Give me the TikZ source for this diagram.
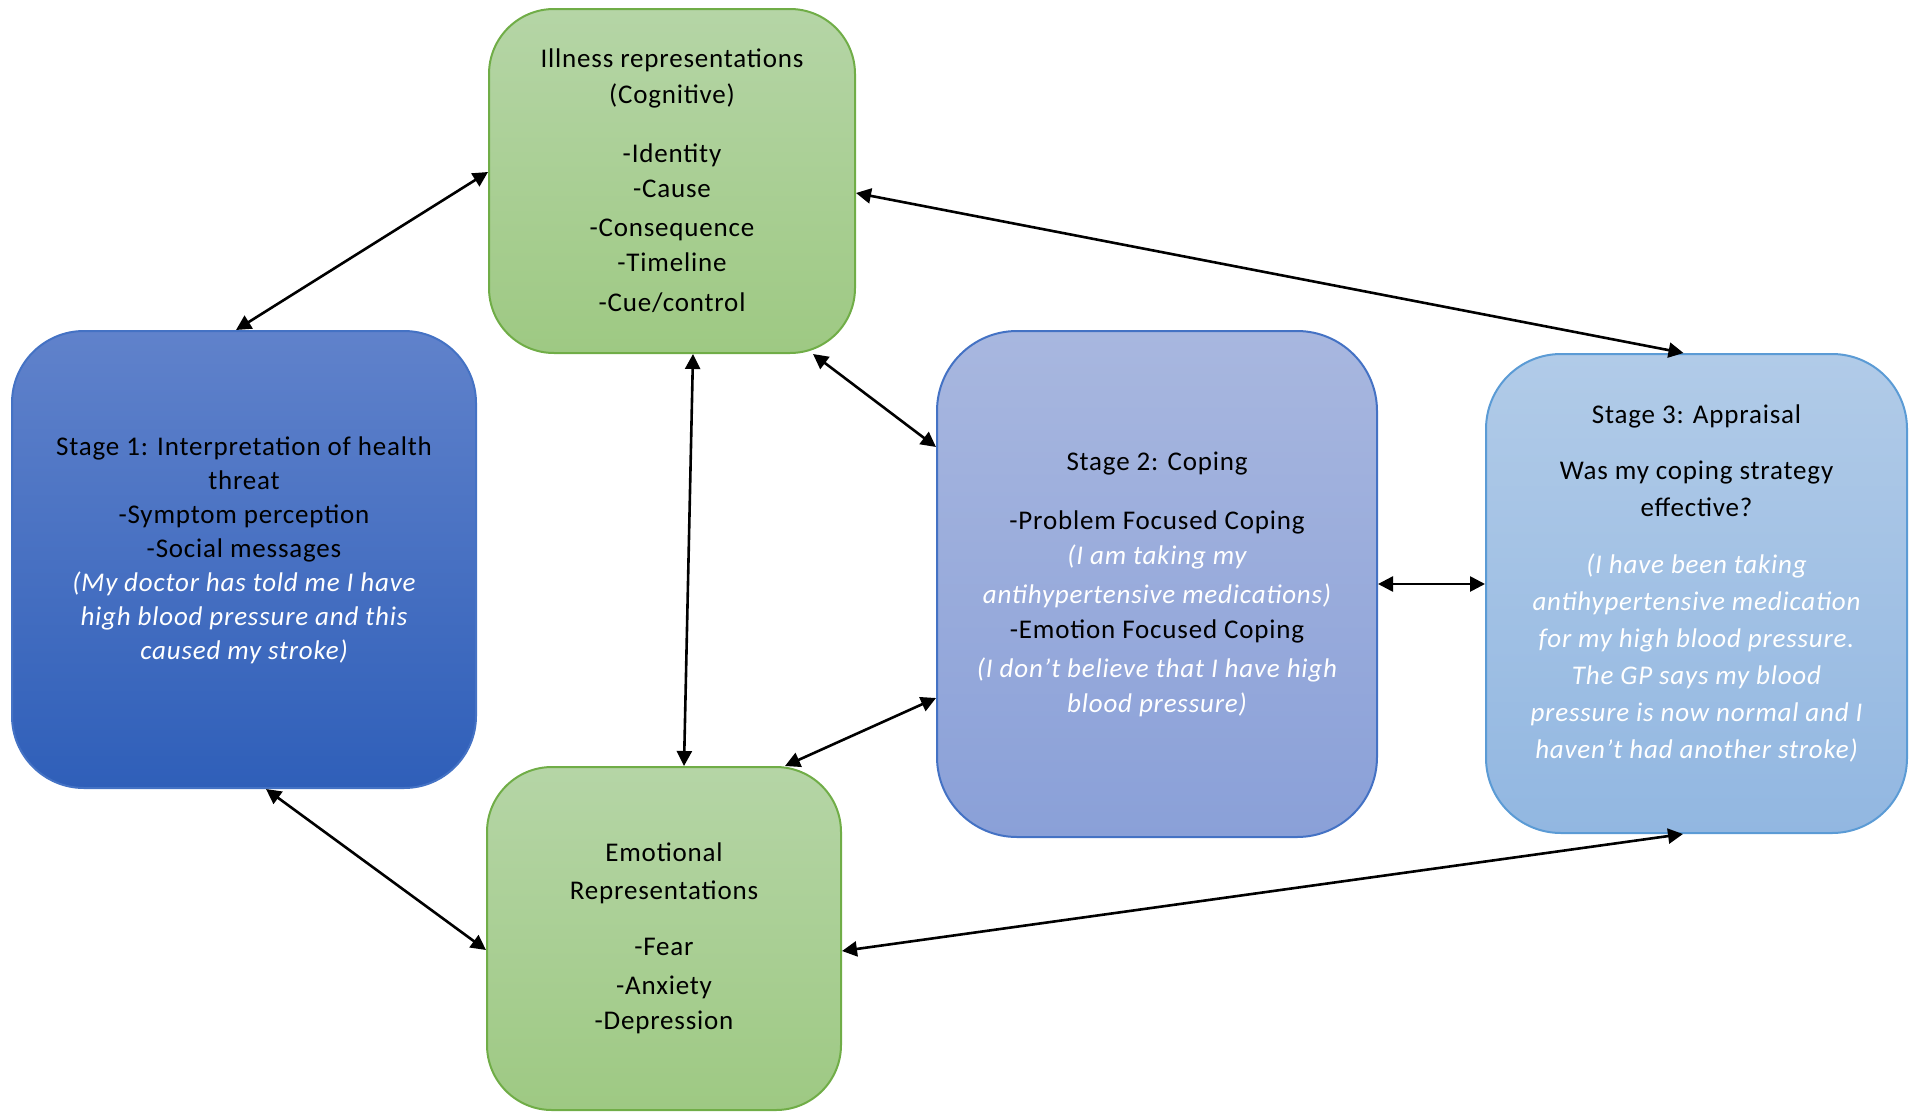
\documentclass[tikz,border=0pt]{standalone}
\usepackage{fontspec}
\setmainfont{Carlito}[LetterSpace=3]
\usetikzlibrary{arrows.meta}

\definecolor{grnTop}{HTML}{B5D5A6}
\definecolor{grnBot}{HTML}{9EC983}
\definecolor{grnLine}{HTML}{70AD47}
\definecolor{dkTop}{HTML}{6082CB}
\definecolor{dkBot}{HTML}{2F5FB9}
\definecolor{dkLine}{HTML}{4472C4}
\definecolor{mdTop}{HTML}{A8B7DF}
\definecolor{mdBot}{HTML}{8AA0D8}
\definecolor{ltTop}{HTML}{B1CBE8}
\definecolor{ltBot}{HTML}{92B7E1}
\definecolor{ltLine}{HTML}{5B9BD5}

\tikzset{
  cardtext/.style={inner sep=0pt, align=center,
    font=\fontsize{27}{35}\selectfont, text=black},
  card/.style={cardtext, rectangle, draw, line width=2pt},
  greencard/.style={card, draw=grnLine, top color=grnTop, bottom color=grnBot},
  darkcard/.style={card, draw=dkLine, top color=dkTop, bottom color=dkBot},
  midcard/.style={card, draw=dkLine, top color=mdTop, bottom color=mdBot},
  lightcard/.style={card, draw=ltLine, top color=ltTop, bottom color=ltBot},
  link/.style={line width=2.6pt, black,
    {Triangle[length=15pt,width=15pt]}-{Triangle[length=15pt,width=15pt]}}
}
\newcommand{\ex}[1]{{\color{white}\itshape #1}}

\begin{document}
\begin{tikzpicture}[x=1pt,y=-1pt]
\useasboundingbox (0,0) rectangle (1919,1111);

% cognitive illness representations
\node[greencard, rounded corners=65pt, minimum width=366pt, minimum height=344pt]
  (ill) at (672,181) {Illness representations\\[1pt]
  (Cognitive)\\[24pt]
  -Identity\\
  -Cause\\[4pt]
  -Consequence\\
  -Timeline\\[5pt]
  -Cue/control};

% stage 1
\node[darkcard, rounded corners=72pt, minimum width=464pt, minimum height=457pt]
  (s1) at (244,559.5) {};
\node[cardtext, font=\fontsize{27}{34}\selectfont] (s1t) at ([yshift=9pt]s1.center)
  {Stage 1: Interpretation of health\\
  threat\\
  -Symptom perception\\
  -Social messages\\
  \ex{(My doctor has told me I have}\\
  \ex{high blood pressure and this}\\
  \ex{caused my stroke)}};

% stage 2
\node[midcard, rounded corners=80pt, minimum width=440pt, minimum height=506pt]
  (s2) at (1157,584) {Stage 2: Coping\\[24pt]
  -Problem Focused Coping\\
  \ex{(I am taking my}\\[4pt]
  \ex{antihypertensive medications)}\\
  -Emotion Focused Coping\\[4pt]
  \ex{(I don’t believe that I have high}\\
  \ex{blood pressure)}};

% stage 3
\node[lightcard, rounded corners=75pt, minimum width=421pt, minimum height=479pt]
  (s3) at (1696.5,593.5) {};
\node[cardtext] (s3t) at ([yshift=10pt]s3.center)
  {Stage 3: Appraisal\\[21pt]
  Was my coping strategy\\[2pt]
  effective?\\[22pt]
  \ex{(I have been taking}\\[2pt]
  \ex{antihypertensive medication}\\[2pt]
  \ex{for my high blood pressure.}\\[2pt]
  \ex{The GP says my blood}\\[2pt]
  \ex{pressure is now normal and I}\\[2pt]
  \ex{haven’t had another stroke)}};

% emotional representations
\node[greencard, rounded corners=65pt, minimum width=354pt, minimum height=343pt]
  (em) at (664,938.5) {Emotional\\[3pt]
  Representations\\[21pt]
  -Fear\\[4pt]
  -Anxiety\\
  -Depression};

% two-way links
\draw[link] ([yshift=9pt]ill.west) -- ([xshift=-8pt]s1.north);
\draw[link] ([yshift=-12pt]ill.east) -- ([xshift=-13pt]s3.north);
\draw[link] ([xshift=21pt]ill.south) -- ([xshift=20pt]em.north);
\draw[link] ([xshift=141pt]ill.south) -- ([yshift=137pt]s2.west);
\draw[link] ([yshift=-114pt]s2.west) -- ([xshift=121pt]em.north);
\draw[link] (s2.east) -- (s3.west |- s2.east);
\draw[link] ([xshift=22pt]s1.south) -- ([yshift=-11.5pt]em.west);
\draw[link] ([yshift=-12.5pt]em.east) -- ([xshift=-13.5pt]s3.south);
\end{tikzpicture}
\end{document}
